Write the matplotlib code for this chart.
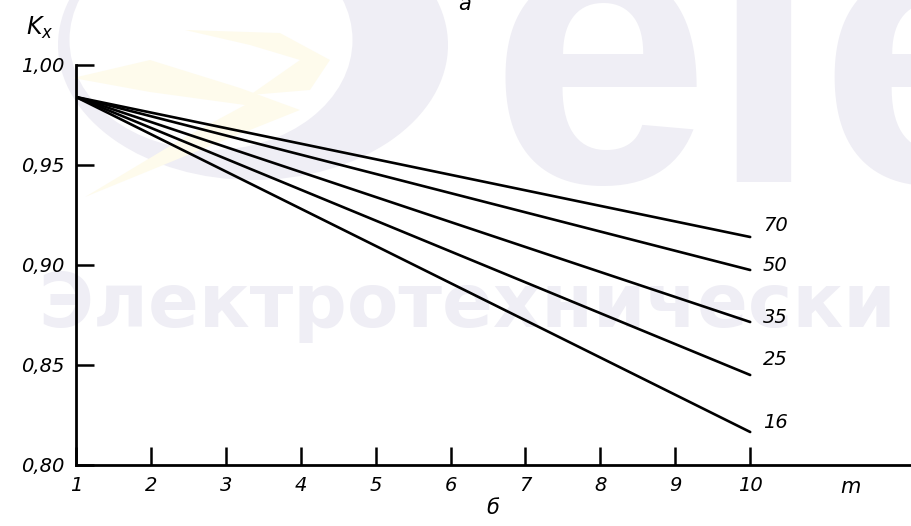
import matplotlib.pyplot as plt
from matplotlib.patches import Ellipse, Polygon

# m values (x axis) and K_x read at the ends of each straight line
m_points = [1, 10]
sections = ['70', '50', '35', '25', '16']
kx_start = [0.984, 0.984, 0.984, 0.984, 0.984]
kx_end = [0.914, 0.8975, 0.8715, 0.845, 0.8165]

y_ticks = [0.80, 0.85, 0.90, 0.95, 1.00]
y_tick_labels = ['0,80', '0,85', '0,90', '0,95', '1,00']
x_ticks = [1, 2, 3, 4, 5, 6, 7, 8, 9, 10]

# label nudges (points) for the curve numbers at the right end
label_dy = [8, 3, 3, 11, 7]

W, H = 912, 526
fig = plt.figure(figsize=(W / 100, H / 100), dpi=100)
fig.patch.set_facecolor('white')

# faint watermark behind the chart, in pixel coordinates
bg = fig.add_axes([0, 0, 1, 1], zorder=0)
bg.set_xlim(0, W)
bg.set_ylim(H, 0)
bg.axis('off')
lav = '#efeef5'
yel = '#fefbec'
bg.add_patch(Ellipse((253, 45), 390, 270, color=lav, lw=0))
bg.add_patch(Ellipse((211, 40), 283, 220, color='white', lw=0))
bg.add_patch(Polygon([(73, 78), (150, 60), (240, 88), (300, 110), (200, 150),
                      (85, 197), (180, 140), (245, 105), (150, 92)],
                     closed=True, color=yel, lw=0))
bg.add_patch(Polygon([(185, 30), (280, 33), (330, 60), (310, 90), (250, 95),
                      (300, 60), (250, 45)], closed=True, color=yel, lw=0))
bg.text(490, 182, 'ele', family='Liberation Sans', weight='bold', fontsize=285,
        color=lav, ha='left', va='baseline')
bg.text(38, 327, 'Электротехнически', family='DejaVu Sans', weight='bold',
        fontsize=54, color=lav, ha='left', va='baseline')

ax = fig.add_axes([76 / W, 1 - 465 / H, (W - 76) / W, 400 / H], zorder=1)
ax.set_facecolor('none')

for sec, k0, k1, dy in zip(sections, kx_start, kx_end, label_dy):
    ax.plot(m_points, [k0, k1], color='black', lw=1.9, solid_capstyle='round')
    ax.annotate(sec, (m_points[-1], k1), xytext=(9, dy), textcoords='offset points',
                fontsize=14, style='italic', va='center', ha='left')

ax.set_xlim(1, 12.16)
ax.set_ylim(0.80, 1.00)
ax.spines['top'].set_visible(False)
ax.spines['right'].set_visible(False)
ax.spines['left'].set_linewidth(2)
ax.spines['bottom'].set_linewidth(2)

ax.set_yticks(y_ticks)
ax.set_yticklabels(y_tick_labels, fontsize=14, style='italic')
ax.set_xticks(x_ticks)
ax.set_xticklabels([str(v) for v in x_ticks], fontsize=14, style='italic')
ax.tick_params(axis='both', direction='in', length=13, width=1.8, pad=8)

fig.text(40 / W, 1 - 28 / H, '$K_x$', fontsize=17, ha='center', va='center')
fig.text(465 / W, 1 - 4 / H, 'а', fontsize=15, style='italic', ha='center', va='center')
fig.text(493 / W, 1 - 508 / H, 'б', fontsize=15, style='italic', ha='center', va='center')
fig.text(850 / W, 1 - 487 / H, 'm', fontsize=15, style='italic', ha='center', va='center')

fig.savefig('out.png', dpi=100, facecolor='white')
